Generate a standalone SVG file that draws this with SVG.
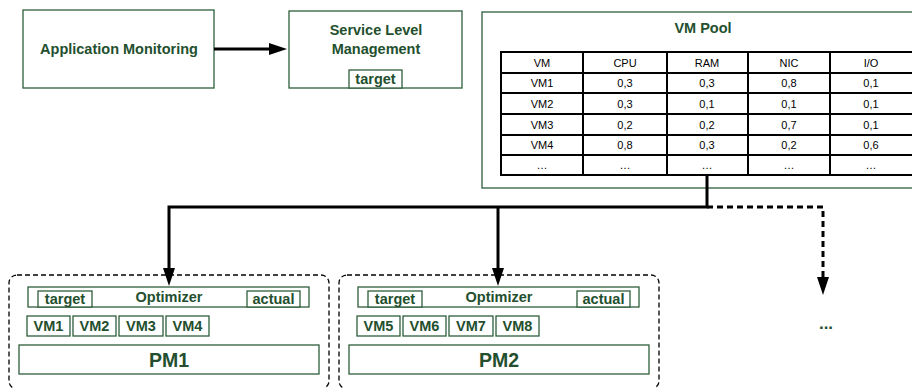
<svg xmlns="http://www.w3.org/2000/svg" width="912" height="388" viewBox="0 0 912 388">
<defs>
<marker id="ah" markerUnits="userSpaceOnUse" viewBox="0 0 18 12" refX="0" refY="6" markerWidth="18" markerHeight="12" orient="auto">
<path d="M0,0 L18,6 L0,12 z" fill="#000"/>
</marker>
</defs>
<style>
.box{fill:#fff;stroke:#2f5e3b;stroke-width:1.3}
.lbl{font-family:"Liberation Sans",Arial,sans-serif;font-weight:bold;font-size:14.5px;fill:#234f2e;text-anchor:middle}
.big{font-size:19.5px}
.cont{fill:none;stroke:#000;stroke-width:1.3;stroke-dasharray:5 3}
.tbl{fill:none;stroke:#000;stroke-width:2}
.cell{font-family:"Liberation Sans",Arial,sans-serif;font-size:11px;fill:#000;text-anchor:middle}
.conn{fill:none;stroke:#000;stroke-width:3}
.dash{stroke-dasharray:6 4}
</style>
<g id="app-monitoring">
<rect class="box" x="23" y="10" width="191" height="78"/>
<text class="lbl" x="119" y="54">Application Monitoring</text>
</g>
<g id="service-level-management">
<rect class="box" x="289" y="11" width="173" height="77"/>
<text class="lbl" x="376" y="35">Service Level</text>
<text class="lbl" x="376" y="54">Management</text>
<rect class="box" x="349" y="70" width="53" height="18"/>
<text class="lbl" x="375.5" y="84">target</text>
</g>
<g id="vm-pool">
<rect class="box" x="482" y="12" width="440" height="176"/>
<text class="lbl" x="703" y="33">VM Pool</text>
<rect class="tbl" x="501" y="52" width="412" height="123"/>
<path class="tbl" d="M583,52V175M667,52V175M748,52V175M830,52V175M501,73H913M501,93H913M501,114H913M501,135H913M501,155H913"/>
<g class="cell">
<text x="542" y="66.5">VM</text><text x="625" y="66.5">CPU</text><text x="707" y="66.5">RAM</text><text x="789" y="66.5">NIC</text><text x="871" y="66.5">I/O</text>
<text x="542" y="87">VM1</text><text x="625" y="87">0,3</text><text x="707" y="87">0,3</text><text x="789" y="87">0,8</text><text x="871" y="87">0,1</text>
<text x="542" y="107.5">VM2</text><text x="625" y="107.5">0,3</text><text x="707" y="107.5">0,1</text><text x="789" y="107.5">0,1</text><text x="871" y="107.5">0,1</text>
<text x="542" y="128.5">VM3</text><text x="625" y="128.5">0,2</text><text x="707" y="128.5">0,2</text><text x="789" y="128.5">0,7</text><text x="871" y="128.5">0,1</text>
<text x="542" y="149">VM4</text><text x="625" y="149">0,8</text><text x="707" y="149">0,3</text><text x="789" y="149">0,2</text><text x="871" y="149">0,6</text>
<text x="542" y="169">…</text><text x="625" y="169">…</text><text x="707" y="169">…</text><text x="789" y="169">…</text><text x="871" y="169">…</text>
</g>
</g>
<g id="pm1">
<rect class="cont" x="9" y="275" width="320" height="114" rx="8"/>
<rect class="box" x="28" y="287" width="281" height="20"/>
<rect class="box" x="38" y="291" width="54" height="16"/>
<text class="lbl" x="65" y="304">target</text>
<text class="lbl" x="169" y="302">Optimizer</text>
<rect class="box" x="247" y="291" width="53" height="16"/>
<text class="lbl" x="273.5" y="304">actual</text>
<rect class="box" x="27" y="316" width="43" height="20"/><text class="lbl" x="48.5" y="331">VM1</text>
<rect class="box" x="73" y="316" width="43" height="20"/><text class="lbl" x="94.5" y="331">VM2</text>
<rect class="box" x="119" y="316" width="44" height="20"/><text class="lbl" x="141" y="331">VM3</text>
<rect class="box" x="166" y="316" width="43" height="20"/><text class="lbl" x="187.5" y="331">VM4</text>
<rect class="box" x="19" y="345" width="300" height="29"/>
<text class="lbl big" x="169" y="367">PM1</text>
</g>
<g id="pm2" transform="translate(330,0)">
<rect class="cont" x="9" y="275" width="320" height="114" rx="8"/>
<rect class="box" x="28" y="287" width="281" height="20"/>
<rect class="box" x="38" y="291" width="54" height="16"/>
<text class="lbl" x="65" y="304">target</text>
<text class="lbl" x="169" y="302">Optimizer</text>
<rect class="box" x="247" y="291" width="53" height="16"/>
<text class="lbl" x="273.5" y="304">actual</text>
<rect class="box" x="27" y="316" width="43" height="20"/><text class="lbl" x="48.5" y="331">VM5</text>
<rect class="box" x="73" y="316" width="43" height="20"/><text class="lbl" x="94.5" y="331">VM6</text>
<rect class="box" x="119" y="316" width="44" height="20"/><text class="lbl" x="141" y="331">VM7</text>
<rect class="box" x="166" y="316" width="43" height="20"/><text class="lbl" x="187.5" y="331">VM8</text>
<rect class="box" x="19" y="345" width="300" height="29"/>
<text class="lbl big" x="169" y="367">PM2</text>
</g>
<g id="more">
<text class="lbl" x="826" y="329" style="font-size:17px">...</text>
</g>
<g id="connectors">
<path class="conn" d="M214,49H269" marker-end="url(#ah)"/>
<path class="conn" d="M707,175V207H169V268" marker-end="url(#ah)"/>
<path class="conn" d="M498,207V268" marker-end="url(#ah)"/>
<path class="conn dash" d="M707,207H823V277" marker-end="url(#ah)"/>
</g>
</svg>
